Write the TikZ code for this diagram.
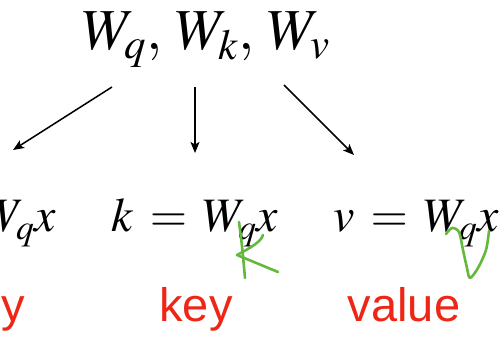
\documentclass[tikz,border=0pt]{standalone}
\usepackage{mathptmx}
\usepackage[no-math]{fontspec}
\newfontfamily\labelfont{Liberation Sans}
\usetikzlibrary{arrows.meta}
\definecolor{clrR}{RGB}{238,38,22}
\definecolor{clrPen}{RGB}{100,185,60}
\tikzset{
  weights/.style={font=\fontsize{58}{70}\selectfont,anchor=base,inner sep=0pt},
  proj/.style={font=\fontsize{48}{58}\selectfont,anchor=base,inner sep=0pt},
  role/.style={font=\labelfont\fontsize{47}{56}\selectfont,text=clrR,
    anchor=base,inner sep=0pt},
  arrow/.style={-{Stealth[length=11pt,width=9pt,inset=2.5pt]},line width=1.5pt},
  pen/.style={clrPen,line width=2.6pt,line cap=round,line join=round}
}
\begin{document}
\begin{tikzpicture}[x=1pt,y=-1pt]
  \useasboundingbox (0,0) rectangle (499,337);
  \clip (0,0) rectangle (499,337);
  \node[weights] (wts) at (206,50) {$W_q,\, W_k,\, W_v$};
  \node[proj,anchor=base east] (qry) at (56,232) {$q \,=\, W_q x$};
  \node[proj] (key) at (195,232) {$k \,=\, W_q x$};
  \node[proj] (val) at (416,232) {$v \,=\, W_q x$};
  \node[role,anchor=base east] (qlab) at (25,321) {query};
  \node[role] (klab) at (196,321) {key};
  \node[role] (vlab) at (404,321) {value};
  % arrows from the weights down to each projection
  \coordinate (qs) at (112,87);
  \coordinate (qe) at (13,150);
  \coordinate (ks) at (195,87);
  \coordinate (ke) at (195,153);
  \coordinate (vs) at (284,85);
  \coordinate (ve) at (354,155);
  \draw[arrow] (qs) -- (qe);
  \draw[arrow] (ks) -- (ke);
  \draw[arrow] (vs) -- (ve);
  % handwritten corrections
  \draw[pen] (239,222) .. controls (242,245) .. (245,278);
  \draw[pen] (263,235) .. controls (261,242) and (250,248) .. (237,255) -- (278,272);
  \draw[pen] plot[smooth] coordinates {(446,234) (452,228) (459,232) (463,250)
    (467,268) (470,278) (478,268) (486,250) (489,231)};
\end{tikzpicture}
\end{document}
